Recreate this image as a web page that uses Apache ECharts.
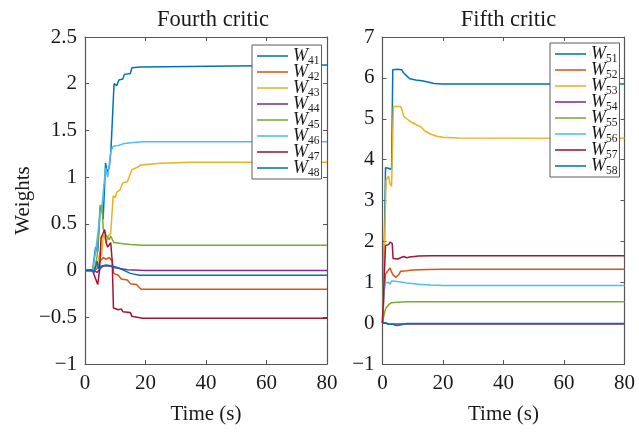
<!DOCTYPE html>
<html>
<head>
<meta charset="utf-8">
<script src="https://cdn.jsdelivr.net/npm/echarts@6/dist/echarts.min.js"></script>
<style>
html,body{margin:0;padding:0;background:#fff;}
#c{width:639px;height:433px;}
</style>
</head>
<body>
<div id="c"></div>
<script>
// ---------- data ----------
const titles = ['Fourth critic', 'Fifth critic'];
const xLabelText = 'Time (s)';
const yLabelText = 'Weights';
const xTickVals = [0, 20, 40, 60, 80];
const xTickLabels = ['0', '20', '40', '60', '80'];
const yTickValsLeft = [-1, -0.5, 0, 0.5, 1, 1.5, 2, 2.5];
const yTickLabelsLeft = ['\u22121', '\u22120.5', '0', '0.5', '1', '1.5', '2', '2.5'];
const yTickValsRight = [-1, 0, 1, 2, 3, 4, 5, 6, 7];
const yTickLabelsRight = ['\u22121', '0', '1', '2', '3', '4', '5', '6', '7'];

const namesLeft = ['W41', 'W42', 'W43', 'W44', 'W45', 'W46', 'W47', 'W48'];
const namesRight = ['W51', 'W52', 'W53', 'W54', 'W55', 'W56', 'W57', 'W58'];
const colors = ['#0072BD', '#D95319', '#EDB120', '#7E2F8E', '#77AC30', '#4DBEEE', '#A2142F', '#0072BD'];

// Fourth critic
const W41 = [[0,0],[2.5,0],[3.5,0.25],[4.2,0.2],[5,0.65],[5.5,0.7],[6,0.55],[6.8,1.15],[7.3,1.05],[8,1.1],[8.6,1.3],[9.2,1.32],[9.6,2.0],[10.5,1.98],[11.2,2.04],[12.5,2.05],[13,2.1],[15,2.11],[15.5,2.17],[18.5,2.18],[19,2.2],[80,2.2]];
const W42 = [[0,0],[3,0],[4,0.02],[5,0.1],[6,0.14],[7,0.12],[8,0.14],[9,0.1],[9.5,-0.03],[11,-0.05],[12,-0.09],[14,-0.1],[15,-0.14],[17,-0.15],[18.5,-0.2],[80,-0.2]];
const W43 = [[0,0],[3,0],[4,0.05],[4.5,0.12],[5,0.2],[5.5,0.15],[6,0.38],[6.5,0.35],[7,0.3],[7.5,0.36],[8,0.35],[8.5,0.4],[9,0.38],[9.3,0.8],[10,0.78],[10.5,0.84],[11.5,0.86],[12.5,0.94],[14,0.95],[15.5,1.08],[17,1.1],[18.5,1.13],[25,1.15],[35,1.16],[80,1.16]];
const W44 = [[0,0],[3,0],[4,-0.02],[5,0.02],[6,0.05],[8,0.05],[10,0.03],[14,0.01],[20,0],[80,0]];
const W45 = [[0,0],[3,0],[4,0.15],[5,0.7],[5.7,0.68],[6,0.45],[7,0.38],[7.5,0.38],[8,0.33],[8.5,0.37],[9,0.36],[9.5,0.3],[12,0.29],[15,0.28],[19,0.27],[80,0.27]];
const W46 = [[0,0],[2.5,0],[3.5,0.2],[5,0.6],[5.5,0.65],[6.8,1.1],[7.5,1.0],[8.6,1.28],[9.3,1.33],[11,1.34],[13,1.36],[16,1.37],[19,1.38],[80,1.38]];
const W47 = [[0,0],[2.5,0],[4.2,-0.15],[4.8,0],[5.3,0.35],[6,0.4],[6.5,0.44],[7,0.3],[7.5,0.25],[8.5,0.3],[9,0.1],[9.4,-0.4],[11,-0.42],[12,-0.41],[12.5,-0.44],[15,-0.45],[15.5,-0.49],[19,-0.51],[80,-0.51]];
const W48 = [[0,0],[2,0.01],[3,-0.02],[4,0.1],[4.5,0.02],[5.5,0.05],[7,0.06],[9,0.05],[11,0.03],[13,0],[15,-0.03],[18,-0.05],[80,-0.05]];

// Fifth critic
const W51 = [[0,0],[0.5,1.5],[1,3.8],[2,3.79],[3,3.76],[3.4,6.2],[5,6.21],[6.3,6.2],[7,6.12],[8,6.05],[9,5.98],[11,5.95],[13,5.93],[15,5.9],[17,5.86],[20,5.85],[80,5.85]];
const W52 = [[0,0],[0.5,0.7],[1,1.2],[2,1.3],[2.5,1.35],[3,1.25],[3.5,1.18],[4.5,1.12],[5.5,1.2],[6,1.27],[8,1.28],[10,1.3],[15,1.31],[20,1.32],[80,1.32]];
const W53 = [[0,0],[0.7,2],[1.2,3.5],[2,3.6],[2.5,3.4],[3,3.35],[3.6,5.3],[6,5.3],[6.5,5.2],[7,5.07],[8,5.0],[9.5,4.92],[11,4.86],[12,4.83],[13,4.78],[14,4.7],[16,4.62],[18,4.57],[20,4.55],[25,4.53],[80,4.52]];
const W54 = [[0,0],[1,0],[2,-0.03],[3,-0.02],[5,-0.02],[80,-0.02]];
const W55 = [[0,0],[0.5,0.2],[1,0.35],[2,0.45],[3,0.5],[5,0.51],[8,0.52],[80,0.52]];
const W56 = [[0,0],[0.5,0.8],[1,0.99],[2,1.0],[2.5,0.95],[3,1.03],[5,1.02],[8,0.98],[12,0.95],[16,0.93],[20,0.92],[80,0.92]];
const W57 = [[0,0],[0.5,1.0],[1,1.9],[2,1.92],[2.5,1.98],[3.2,1.95],[3.5,1.58],[5,1.57],[6,1.6],[7,1.63],[8,1.6],[9,1.62],[12,1.64],[16,1.65],[80,1.65]];
const W58 = [[0,0],[1,0.01],[2,-0.02],[3.5,-0.03],[4.5,-0.06],[5.5,-0.05],[6,-0.02],[8,-0.01],[80,-0.01]];

const dataLeft = [W41, W42, W43, W44, W45, W46, W47, W48];
const dataRight = [W51, W52, W53, W54, W55, W56, W57, W58];

// ---------- chart ----------
const FONT = 'Liberation Serif';
const TXT = '#1a1a1a';
const AX = '#555555';

function lookup(vals, labels) {
  return function (v) {
    for (let i = 0; i < vals.length; i++) if (Math.abs(vals[i] - v) < 1e-9) return labels[i];
    return '';
  };
}

const grids = [
  { left: 85, top: 37, width: 242, height: 327 },
  { left: 382.5, top: 37, width: 242, height: 327 }
];

function xAx(gi, pos) {
  const main = pos === 'bottom';
  return {
    type: 'value', gridIndex: gi, position: pos, min: 0, max: 80, interval: 20,
    axisLine: { show: true, onZero: false, lineStyle: { color: AX, width: 1.2 } },
    axisTick: { show: true, inside: true, length: 4, lineStyle: { color: AX } },
    axisLabel: { show: main, margin: 9, fontFamily: FONT, fontSize: 21, color: TXT, formatter: lookup(xTickVals, xTickLabels) },
    splitLine: { show: false },
    name: main ? xLabelText : '', nameLocation: 'middle', nameGap: 40,
    nameTextStyle: { fontFamily: FONT, fontSize: 21, color: TXT }
  };
}
function yAx(gi, pos, mn, mx, iv, vals, labels, showName) {
  const main = pos === 'left';
  return {
    type: 'value', gridIndex: gi, position: pos, min: mn, max: mx, interval: iv,
    axisLine: { show: true, onZero: false, lineStyle: { color: AX, width: 1.2 } },
    axisTick: { show: true, inside: true, length: 4, lineStyle: { color: AX } },
    axisLabel: { show: main, margin: 8, fontFamily: FONT, fontSize: 21, color: TXT, formatter: lookup(vals, labels) },
    splitLine: { show: false },
    name: (main && showName) ? yLabelText : '', nameLocation: 'middle', nameGap: 51,
    nameTextStyle: { fontFamily: FONT, fontSize: 21, color: TXT }
  };
}

const series = [];
namesLeft.forEach((n, i) => series.push({
  name: n, type: 'line', xAxisIndex: 0, yAxisIndex: 0, data: dataLeft[i],
  symbol: 'none', lineStyle: { width: 1.5, color: colors[i] }, itemStyle: { color: colors[i] },
  animation: false
}));
namesRight.forEach((n, i) => series.push({
  name: n, type: 'line', xAxisIndex: 2, yAxisIndex: 2, data: dataRight[i],
  symbol: 'none', lineStyle: { width: 1.5, color: colors[i] }, itemStyle: { color: colors[i] },
  animation: false
}));

function legend(names, left, top) {
  return {
    data: names, orient: 'vertical', left: left, top: top,
    itemWidth: 31, itemHeight: 14, itemGap: -6,
    padding: [0, 2, 0, 5],
    borderColor: '#5a5a5a', borderWidth: 1, backgroundColor: '#fff',
    icon: 'path://M0,0 L30,0 L30,1.5 L0,1.5 Z',
    formatter: n => '{w|W}{s|' + n.slice(1) + '}',
    textStyle: {
      color: TXT,
      rich: {
        w: { fontFamily: FONT, fontStyle: 'italic', fontSize: 18, lineHeight: 14, color: TXT },
        s: { fontFamily: FONT, fontSize: 11.5, lineHeight: 4, padding: [10, 0, 0, 0], color: TXT }
      }
    }
  };
}

const option = {
  backgroundColor: '#fff',
  animation: false,
  title: [
    { text: titles[0], left: 85 + 123, top: 4, textAlign: 'center', textStyle: { fontFamily: FONT, fontSize: 22.5, fontWeight: 'normal', color: TXT } },
    { text: titles[1], left: 382.5 + 121, top: 4, textAlign: 'center', textStyle: { fontFamily: FONT, fontSize: 22.5, fontWeight: 'normal', color: TXT } }
  ],
  grid: grids,
  xAxis: [xAx(0, 'bottom'), xAx(0, 'top'), xAx(1, 'bottom'), xAx(1, 'top')],
  yAxis: [
    yAx(0, 'left', -1, 2.5, 0.5, yTickValsLeft, yTickLabelsLeft, true),
    yAx(0, 'right', -1, 2.5, 0.5, yTickValsLeft, yTickLabelsLeft, false),
    yAx(1, 'left', -1, 7, 1, yTickValsRight, yTickLabelsRight, false),
    yAx(1, 'right', -1, 7, 1, yTickValsRight, yTickLabelsRight, false)
  ],
  legend: [legend(namesLeft, 252, 45), legend(namesRight, 550, 43)],
  series: series
};

const chart = echarts.init(document.getElementById('c'), null, { renderer: 'canvas' });
chart.setOption(option);
</script>
</body>
</html>
